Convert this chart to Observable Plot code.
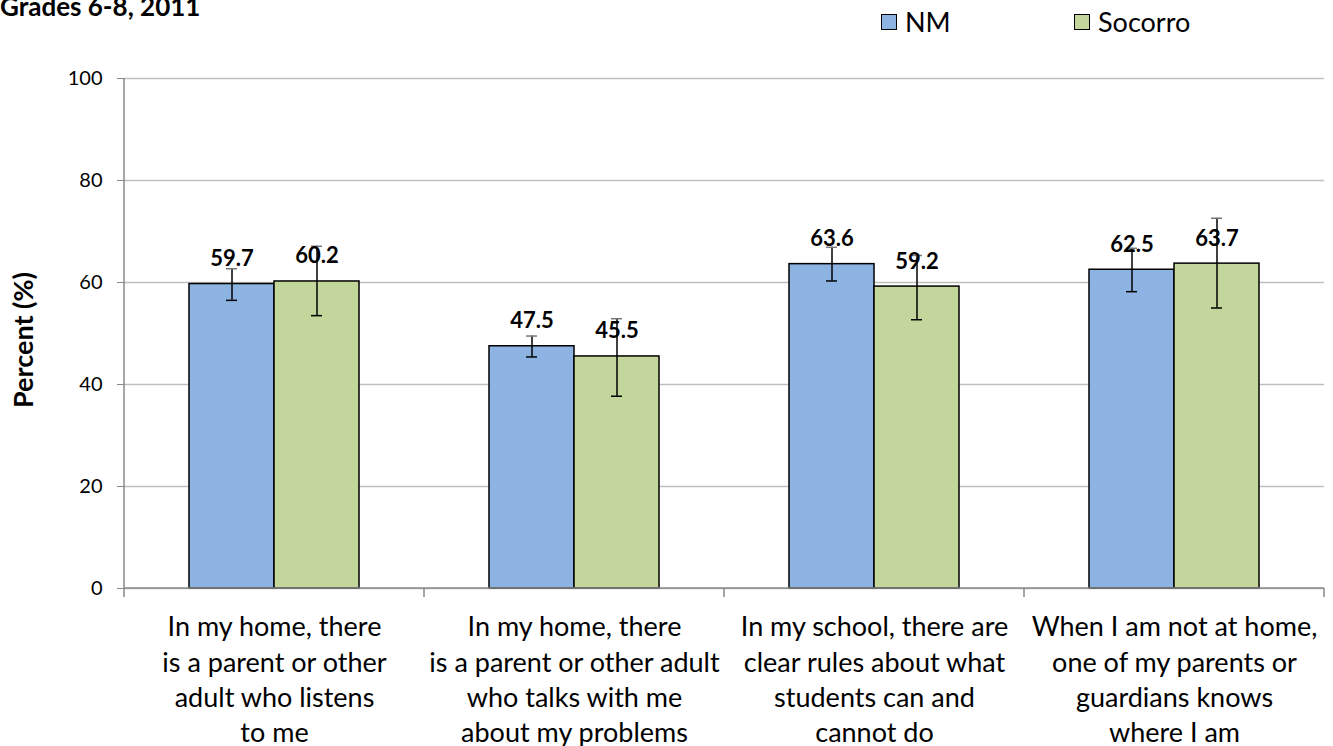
<!DOCTYPE html>
<html>
<head>
<meta charset="utf-8">
<script src="https://cdn.jsdelivr.net/npm/d3@7"></script>
<script src="https://cdn.jsdelivr.net/npm/@observablehq/plot@0.6"></script>
<style>
  html, body { margin: 0; padding: 0; background: #fff; }
  body { width: 1333px; height: 746px; position: relative; overflow: hidden; font-family: Lato, "Open Sans", sans-serif; }
  #title { position: absolute; left: 0; top: -10px; font-weight: bold; font-size: 26px; line-height: 32px; color: #000; white-space: nowrap; }
  #ylabel { position: absolute; left: 22px; top: 340px; transform: translate(-50%, -50%) rotate(-90deg); font-weight: bold; font-size: 27px; white-space: nowrap; }
  .legend { position: absolute; top: 6px; height: 32px; display: flex; align-items: center; font-size: 27px; line-height: 32px; }
  .legend .sw { width: 16px; height: 16px; border: 1.5px solid #000; margin-right: 8px; box-sizing: border-box; }
  #chart { position: absolute; left: 0; top: 0; }
</style>
</head>
<body>
<div id="chart"></div>
<div id="title">Grades 6-8, 2011</div>
<div id="ylabel">Percent (%)</div>
<div id="legend"></div>
<script>
const categories = [
  "In my home, there\nis a parent or other\nadult who listens\nto me",
  "In my home, there\nis a parent or other adult\nwho talks with me\nabout my problems",
  "In my school, there are\nclear rules about what\nstudents can and\ncannot do",
  "When I am not at home,\none of my parents or\nguardians knows\nwhere I am"
];
const series = ["NM", "Socorro"];
const seriesColors = ["#8db3e2", "#c3d69b"];
const nmValues = [59.7, 47.5, 63.6, 62.5];
const socorroValues = [60.2, 45.5, 59.2, 63.7];
const nmLow = [56.5, 45.4, 60.3, 58.2];
const nmHigh = [62.7, 49.5, 66.9, 66.7];
const socorroLow = [53.5, 37.7, 52.7, 55.0];
const socorroHigh = [67.1, 52.9, 65.3, 72.6];
const yTicks = [0, 20, 40, 60, 80, 100];

const data = [];
categories.forEach((c, i) => {
  data.push({category: c, series: "NM", value: nmValues[i], low: nmLow[i], high: nmHigh[i]});
  data.push({category: c, series: "Socorro", value: socorroValues[i], low: socorroLow[i], high: socorroHigh[i]});
});

// legend
const legend = document.getElementById("legend");
const legendLeft = [881, 1074];
series.forEach((s, i) => {
  const d = document.createElement("div");
  d.className = "legend";
  d.style.left = legendLeft[i] + "px";
  d.innerHTML = `<div class="sw" style="background:${seriesColors[i]}"></div><span>${s}</span>`;
  legend.appendChild(d);
});

const plot = Plot.plot({
  width: 1333,
  height: 746,
  marginLeft: 123,
  marginRight: 8,
  marginTop: 78,
  marginBottom: 158,
  style: {fontFamily: "Lato, 'Open Sans', sans-serif", background: "transparent"},
  fx: {domain: categories, padding: 0, label: null},
  x: {domain: series, paddingInner: 0, paddingOuter: 0.76, axis: null},
  y: {domain: [0, 100], label: null},
  color: {domain: series, range: seriesColors},
  marks: [
    Plot.gridY(yTicks, {stroke: "#bfbfbf", strokeOpacity: 1, strokeWidth: 1.5}),
    Plot.barY(data, {fx: "category", x: "series", y: "value", fill: "series", stroke: "#000", strokeWidth: 1.5}),
    Plot.ruleX(data, {fx: "category", x: "series", y1: "low", y2: "high", stroke: "#000", strokeWidth: 1.5}),
    Plot.tickY(data, {fx: "category", x: "series", y: "low", stroke: "#000", strokeWidth: 1.5, insetLeft: 37, insetRight: 37}),
    Plot.tickY(data, {fx: "category", x: "series", y: "high", stroke: "#777", strokeWidth: 1.5, insetLeft: 37, insetRight: 37}),
    Plot.text(data, {fx: "category", x: "series", y: "value", text: d => d.value.toFixed(1), lineAnchor: "bottom", dy: -18, fontWeight: "bold", fontSize: 22, fill: "#000"}),
    Plot.axisY(yTicks, {tickSize: 7, tickPadding: 15, fontSize: 20, label: null, stroke: "#888", color: "#000"}),
    Plot.axisFx({anchor: "bottom", tickSize: 0, tickPadding: 23, fontSize: 27, lineHeight: 1.3, label: null, color: "#000"})
  ]
});
document.getElementById("chart").appendChild(plot);

// axis lines and category separator ticks through the plot's own scales
const fxS = plot.scale("fx");
const yS = plot.scale("y");
const svg = d3.select(plot);
const y0 = yS.apply(0), y100 = yS.apply(100);
const left = fxS.apply(categories[0]);
svg.append("line").attr("x1", left).attr("x2", left).attr("y1", y100).attr("y2", y0).attr("stroke", "#888").attr("stroke-width", 1.5);
const bounds = categories.map(c => fxS.apply(c)).concat([fxS.apply(categories[categories.length - 1]) + fxS.bandwidth]);
svg.append("line").attr("x1", bounds[0]).attr("x2", bounds[bounds.length - 1]).attr("y1", y0).attr("y2", y0).attr("stroke", "#888").attr("stroke-width", 1.5);
bounds.forEach(b => {
  svg.append("line").attr("x1", b).attr("x2", b).attr("y1", y0).attr("y2", y0 + 9).attr("stroke", "#888").attr("stroke-width", 1.5);
});
</script>
</body>
</html>
